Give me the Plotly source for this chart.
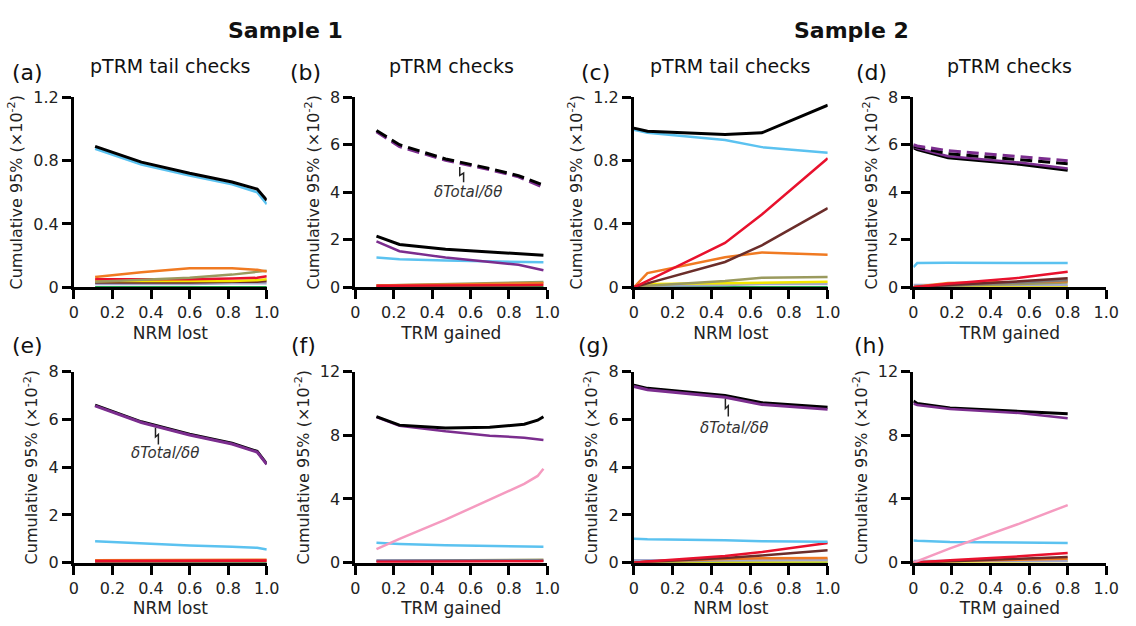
import plotly.graph_objects as go

W, H = 1136, 626

# ---------------- data ----------------
# Panel (a) Sample 1, pTRM tail checks (x: NRM lost)
A_X = [0.11, 0.35, 0.60, 0.82, 0.95, 1.00]
A_BLACK = [0.89, 0.79, 0.72, 0.665, 0.62, 0.55]
A_BLUE = [0.875, 0.775, 0.705, 0.65, 0.60, 0.525]
A_ORANGE = [0.065, 0.095, 0.12, 0.12, 0.11, 0.10]
A_OLIVE = [0.035, 0.045, 0.06, 0.08, 0.10, 0.105]
A_RED = [0.05, 0.05, 0.05, 0.055, 0.06, 0.07]
A_YELLOW = [0.04, 0.04, 0.04, 0.04, 0.045, 0.05]
A_BROWN = [0.03, 0.03, 0.03, 0.035, 0.035, 0.04]
A_LAV = [0.02, 0.02, 0.02, 0.025, 0.025, 0.025]
A_GREEN = [0.0, 0.0, 0.0, 0.0, 0.0, 0.0]

# Panel (b) Sample 1, pTRM checks (x: TRM gained)
B_X = [0.11, 0.23, 0.47, 0.70, 0.85, 0.98]
B_BLACK_D = [6.6, 6.0, 5.4, 5.0, 4.7, 4.3]
B_PURPLE_D = [6.55, 5.92, 5.35, 4.95, 4.65, 4.2]
B_BLACK = [2.15, 1.8, 1.6, 1.48, 1.42, 1.35]
B_PURPLE = [1.93, 1.52, 1.25, 1.08, 0.95, 0.72]
B_BLUE = [1.25, 1.18, 1.13, 1.09, 1.07, 1.05]
B_OLIVE = [0.08, 0.1, 0.13, 0.16, 0.19, 0.22]
B_ORANGE = [0.08, 0.09, 0.11, 0.13, 0.15, 0.17]
B_RED = [0.06, 0.06, 0.07, 0.08, 0.09, 0.1]
B_GREEN = [0.0, 0.0, 0.0, 0.0, 0.0, 0.0]

# Panel (c) Sample 2, pTRM tail checks (x: NRM lost)
C_X = [0.0, 0.07, 0.47, 0.66, 1.0]
C_BLACK = [1.005, 0.985, 0.965, 0.975, 1.15]
C_BLUE = [0.995, 0.975, 0.93, 0.885, 0.85]
C_RED = [0.0, 0.04, 0.28, 0.46, 0.815]
C_BROWN = [0.0, 0.025, 0.16, 0.265, 0.50]
C_ORANGE = [0.0, 0.09, 0.19, 0.22, 0.205]
C_OLIVE = [0.0, 0.01, 0.04, 0.06, 0.065]
C_YELLOW = [0.0, 0.02, 0.025, 0.03, 0.035]
C_LAV = [0.0, 0.01, 0.015, 0.02, 0.02]
C_GREEN = [0.0, 0.0, 0.0, 0.0, 0.0]

# Panel (d) Sample 2, pTRM checks (x: TRM gained)
D_X = [0.0, 0.02, 0.18, 0.55, 0.80]
D_PURPLE_D = [6.0, 5.95, 5.75, 5.5, 5.33]
D_BLACK_D = [5.95, 5.9, 5.62, 5.38, 5.2]
D_PURPLE = [5.92, 5.85, 5.52, 5.25, 5.0]
D_BLACK = [5.87, 5.8, 5.45, 5.18, 4.93]
D_BLUE = [0.85, 1.02, 1.03, 1.02, 1.02]
D_RED = [0.0, 0.02, 0.15, 0.40, 0.65]
D_BROWN = [0.0, 0.01, 0.1, 0.25, 0.38]
D_GREY = [0.0, 0.01, 0.08, 0.2, 0.3]
D_ORANGE = [0.0, 0.03, 0.18, 0.22, 0.25]
D_OLIVE = [0.0, 0.01, 0.06, 0.14, 0.2]
D_LAV = [0.1, 0.1, 0.1, 0.1, 0.1]
D_YELLOW = [0.0, 0.01, 0.03, 0.04, 0.05]
D_PINK = [0.0, 0.0, 0.01, 0.01, 0.02]

# Panel (e) Sample 1, (x: NRM lost)
E_X = [0.11, 0.35, 0.60, 0.82, 0.95, 1.00]
E_BLACK = [6.6, 5.9, 5.38, 5.0, 4.66, 4.14]
E_PURPLE = [6.57, 5.87, 5.35, 4.97, 4.63, 4.12]
E_BLUE = [0.9, 0.8, 0.72, 0.67, 0.62, 0.55]
E_ORANGE = [0.1, 0.1, 0.11, 0.11, 0.12, 0.12]
E_RED = [0.06, 0.06, 0.07, 0.07, 0.08, 0.08]
E_GREEN = [0.0, 0.0, 0.0, 0.0, 0.0, 0.0]

# Panel (f) Sample 1, (x: TRM gained)
F_X = [0.11, 0.23, 0.47, 0.70, 0.88, 0.95, 0.98]
F_BLACK = [9.17, 8.64, 8.46, 8.5, 8.7, 8.95, 9.17]
F_PURPLE = [9.15, 8.6, 8.25, 7.98, 7.85, 7.75, 7.7]
F_PINK = [0.85, 1.5, 2.7, 3.95, 4.95, 5.45, 5.9]
F_BLUE = [1.25, 1.18, 1.1, 1.06, 1.03, 1.02, 1.0]
F_OLIVE = [0.12, 0.13, 0.14, 0.15, 0.16, 0.17, 0.18]
F_INDIGO = [0.12, 0.12, 0.12, 0.12, 0.12, 0.12, 0.12]
F_RED = [0.05, 0.05, 0.06, 0.07, 0.08, 0.09, 0.1]

# Panel (g) Sample 2, (x: NRM lost)
G_X = [0.0, 0.07, 0.47, 0.66, 1.0]
G_BLACK = [7.43, 7.3, 7.0, 6.7, 6.51]
G_PURPLE = [7.38, 7.24, 6.93, 6.62, 6.42]
G_BLUE = [1.0, 0.98, 0.94, 0.9, 0.88]
G_RED = [0.0, 0.05, 0.28, 0.45, 0.82]
G_BROWN = [0.0, 0.04, 0.2, 0.3, 0.52]
G_ORANGE = [0.0, 0.05, 0.15, 0.19, 0.2]
G_LAV = [0.1, 0.1, 0.1, 0.1, 0.1]
G_OLIVE = [0.0, 0.02, 0.1, 0.12, 0.13]
G_YELLOW = [0.0, 0.02, 0.04, 0.05, 0.05]
G_GREEN = [0.0, 0.0, 0.0, 0.0, 0.0]

# Panel (h) Sample 2, (x: TRM gained)
H_X = [0.0, 0.02, 0.19, 0.55, 0.80]
H_BLACK = [10.15, 10.0, 9.72, 9.5, 9.35]
H_PURPLE = [10.0, 9.9, 9.65, 9.4, 9.07]
H_PINK = [0.0, 0.1, 0.9, 2.45, 3.62]
H_BLUE = [1.4, 1.38, 1.3, 1.26, 1.24]
H_RED = [0.0, 0.02, 0.15, 0.4, 0.6]
H_BROWN = [0.0, 0.01, 0.1, 0.25, 0.35]
H_ORANGE = [0.0, 0.02, 0.1, 0.18, 0.25]
H_LAV = [0.1, 0.1, 0.1, 0.1, 0.1]
H_YELLOW = [0.0, 0.01, 0.05, 0.08, 0.1]

X_TICKS = [0, 0.2, 0.4, 0.6, 0.8, 1.0]
X_TICKTEXT = ["0", "0.2", "0.4", "0.6", "0.8", "1.0"]
Y_TICKS_SMALL = [0, 0.4, 0.8, 1.2]
Y_TICKTEXT_SMALL = ["0", "0.4", "0.8", "1.2"]
Y_TICKS_MID = [0, 2, 4, 6, 8]
Y_TICKS_BIG = [0, 4, 8, 12]

PANEL_LETTERS = ["(a)", "(b)", "(c)", "(d)", "(e)", "(f)", "(g)", "(h)"]
PANEL_TITLES = ["pTRM tail checks", "pTRM checks", "pTRM tail checks", "pTRM checks"]
X_TITLES = ["NRM lost", "TRM gained", "NRM lost", "TRM gained"] * 2
SAMPLE_TITLES = ["Sample 1", "Sample 2"]

# ---------------- styling ----------------
FONT = "DejaVu Sans"
BLACK = "#000000"
BLUE = "#5BC2F0"
PURPLE = "#7B2D8E"
RED = "#E8112D"
BROWN = "#6B2D2A"
ORANGE = "#F07A22"
OLIVE = "#9A9A5E"
YELLOW = "#F2E600"
GREEN = "#1F9E48"
LAV = "#A3A8CC"
PINK = "#F59BC0"
GREY = "#7C7C7C"
INDIGO = "#5A5FB0"
DASH = "12px,6px"

COL_PX = [(70, 266), (356, 551), (639, 836), (923, 1119)]
ROW_PX = [(91, 287), (374, 571)]


def xd(px):
    return px / W


def yd(py):
    return 1 - py / H


fig = go.Figure()

panels = [
    # (x, [(y, color, dash, width), ...]) drawn in order (last on top)
    (A_X, [(A_GREEN, GREEN, None, 2.5), (A_LAV, LAV, None, 2.5), (A_BROWN, BROWN, None, 2.5),
           (A_YELLOW, YELLOW, None, 2.5), (A_RED, RED, None, 2.5), (A_OLIVE, OLIVE, None, 2.5),
           (A_ORANGE, ORANGE, None, 2.5), (A_BLUE, BLUE, None, 2.5), (A_BLACK, BLACK, None, 3)]),
    (B_X, [(B_GREEN, GREEN, None, 2.5), (B_OLIVE, OLIVE, None, 2.5), (B_ORANGE, ORANGE, None, 2.5),
           (B_RED, RED, None, 2.5), (B_BLUE, BLUE, None, 2.5), (B_PURPLE, PURPLE, None, 2.5),
           (B_BLACK, BLACK, None, 3), (B_PURPLE_D, PURPLE, DASH, 3), (B_BLACK_D, BLACK, DASH, 3)]),
    (C_X, [(C_GREEN, GREEN, None, 2.5), (C_LAV, LAV, None, 2.5), (C_YELLOW, YELLOW, None, 2.5),
           (C_OLIVE, OLIVE, None, 2.5), (C_ORANGE, ORANGE, None, 2.5), (C_BROWN, BROWN, None, 2.5),
           (C_RED, RED, None, 2.5), (C_BLUE, BLUE, None, 2.5), (C_BLACK, BLACK, None, 3)]),
    (D_X, [(D_PINK, PINK, None, 2.5), (D_YELLOW, YELLOW, None, 2.5), (D_LAV, LAV, None, 2.5),
           (D_OLIVE, OLIVE, None, 2.5), (D_ORANGE, ORANGE, None, 2.5), (D_GREY, GREY, None, 2.5),
           (D_BROWN, BROWN, None, 2.5), (D_RED, RED, None, 2.5), (D_BLUE, BLUE, None, 2.5),
           (D_BLACK, BLACK, None, 3), (D_PURPLE, PURPLE, None, 2.5),
           (D_BLACK_D, BLACK, DASH, 3), (D_PURPLE_D, PURPLE, DASH, 3)]),
    (E_X, [(E_GREEN, GREEN, None, 2.5), (E_ORANGE, ORANGE, None, 2.5), (E_RED, RED, None, 3),
           (E_BLUE, BLUE, None, 2.5), (E_BLACK, BLACK, None, 3), (E_PURPLE, PURPLE, None, 3)]),
    (F_X, [(F_OLIVE, OLIVE, None, 2.5), (F_INDIGO, INDIGO, None, 2.5), (F_RED, RED, None, 2.5),
           (F_BLUE, BLUE, None, 2.5), (F_PINK, PINK, None, 2.5), (F_PURPLE, PURPLE, None, 2.5),
           (F_BLACK, BLACK, None, 3)]),
    (G_X, [(G_GREEN, GREEN, None, 2.5), (G_YELLOW, YELLOW, None, 2.5), (G_OLIVE, OLIVE, None, 2.5),
           (G_LAV, LAV, None, 2.5), (G_ORANGE, ORANGE, None, 2.5), (G_BROWN, BROWN, None, 2.5),
           (G_RED, RED, None, 2.5), (G_BLUE, BLUE, None, 2.5), (G_BLACK, BLACK, None, 3),
           (G_PURPLE, PURPLE, None, 3)]),
    (H_X, [(H_YELLOW, YELLOW, None, 2.5), (H_LAV, LAV, None, 2.5), (H_ORANGE, ORANGE, None, 2.5),
           (H_BROWN, BROWN, None, 2.5), (H_RED, RED, None, 2.5), (H_BLUE, BLUE, None, 2.5),
           (H_PINK, PINK, None, 2.5), (H_BLACK, BLACK, None, 3), (H_PURPLE, PURPLE, None, 2.5)]),
]

Y_SPECS = [
    (Y_TICKS_SMALL, Y_TICKTEXT_SMALL, [0, 1.2]),
    (Y_TICKS_MID, [str(v) for v in Y_TICKS_MID], [0, 8]),
    (Y_TICKS_SMALL, Y_TICKTEXT_SMALL, [0, 1.2]),
    (Y_TICKS_MID, [str(v) for v in Y_TICKS_MID], [0, 8]),
    (Y_TICKS_MID, [str(v) for v in Y_TICKS_MID], [0, 8]),
    (Y_TICKS_BIG, [str(v) for v in Y_TICKS_BIG], [0, 12]),
    (Y_TICKS_MID, [str(v) for v in Y_TICKS_MID], [0, 8]),
    (Y_TICKS_BIG, [str(v) for v in Y_TICKS_BIG], [0, 12]),
]

ytitle = "Cumulative 95% (×10<sup>-2</sup>)"

layout_axes = {}
for i, (xs, series) in enumerate(panels):
    n = i + 1
    xa = "x" if n == 1 else f"x{n}"
    ya = "y" if n == 1 else f"y{n}"
    for ys, color, dash, width in series:
        fig.add_trace(go.Scatter(
            x=xs, y=ys, mode="lines", xaxis=xa, yaxis=ya, cliponaxis=False,
            line=dict(color=color, width=width, dash=dash), showlegend=False,
            hoverinfo="skip"))
    col, row = i % 4, i // 4
    x0, x1 = COL_PX[col]
    y0, y1 = ROW_PX[row]
    ticks, ticktext, yr = Y_SPECS[i]
    axis_common = dict(showline=True, linecolor="black", linewidth=3, ticks="outside",
                       ticklen=9, tickwidth=3, tickcolor="black", showgrid=False,
                       zeroline=False, tickfont=dict(family=FONT, size=16, color="#222"))
    layout_axes["xaxis" if n == 1 else f"xaxis{n}"] = dict(
        domain=[xd(x0), xd(x1)], range=[0, 1.0], anchor=ya,
        tickvals=X_TICKS, ticktext=X_TICKTEXT,
        title=dict(text=X_TITLES[i], font=dict(family=FONT, size=17, color="#222"), standoff=6),
        **axis_common)
    layout_axes["yaxis" if n == 1 else f"yaxis{n}"] = dict(
        domain=[yd(y1), yd(y0)], range=yr, anchor=xa,
        tickvals=ticks, ticktext=ticktext,
        title=dict(text=ytitle, font=dict(family=FONT, size=16, color="#222"), standoff=7),
        **axis_common)

annotations = []
for i, t in enumerate(PANEL_TITLES):
    x0, x1 = COL_PX[i]
    annotations.append(dict(text=t, x=xd((x0 + x1) / 2), y=yd(59), xref="paper", yref="paper",
                            showarrow=False, xanchor="center", yanchor="middle",
                            font=dict(family=FONT, size=19, color="#111")))
LETTER_POS = [(23, 65), (305, 65), (600, 65), (880, 65), (23, 347), (303, 347), (598, 347), (878, 347)]
for lbl, (px, py) in zip(PANEL_LETTERS, LETTER_POS):
    annotations.append(dict(text=lbl, x=xd(px), y=yd(py), xref="paper", yref="paper",
                            showarrow=False, xanchor="center", yanchor="middle",
                            font=dict(family=FONT, size=22, color="#111")))
for t, px in zip(SAMPLE_TITLES, [285, 860]):
    annotations.append(dict(text=f"<b>{t}</b>", x=xd(px), y=yd(22), xref="paper", yref="paper",
                            showarrow=False, xanchor="center", yanchor="middle",
                            font=dict(family=FONT, size=22, color="#111")))

# dTotal/dtheta labels with zigzag leaders: (panel index, text x, text y, leader x, top y, bottom y, dx)
LABELS = [(2, 0.585, 4.0, 0.544, 5.06, 4.42, 0.02),
          (5, 0.47, 4.6, 0.423, 5.65, 4.95, 0.015),
          (7, 0.515, 5.65, 0.472, 6.87, 6.12, 0.015)]
shapes = []
for n, tx, ty, lx, ytop, ybot, dx in LABELS:
    xa = f"x{n}"
    ya = f"y{n}"
    annotations.append(dict(text="<i>δTotal/δθ</i>", x=tx, y=ty, xref=xa, yref=ya,
                            showarrow=False, xanchor="center", yanchor="middle",
                            font=dict(family=FONT, size=15, color="#333")))
    ym = ytop - 0.55 * (ytop - ybot)
    path = (f"M {lx},{ytop} L {lx},{ym} L {lx + dx},{ym + 0.15 * (ytop - ybot)} "
            f"L {lx + dx},{ybot}")
    shapes.append(dict(type="path", path=path, xref=xa, yref=ya,
                       line=dict(color="#222", width=1.5)))

fig.update_layout(
    width=W, height=H, margin=dict(l=0, r=0, t=0, b=0),
    paper_bgcolor="white", plot_bgcolor="white",
    annotations=annotations, shapes=shapes,
    font=dict(family=FONT, color="#222"),
    **layout_axes)

fig.write_html("out.html")
